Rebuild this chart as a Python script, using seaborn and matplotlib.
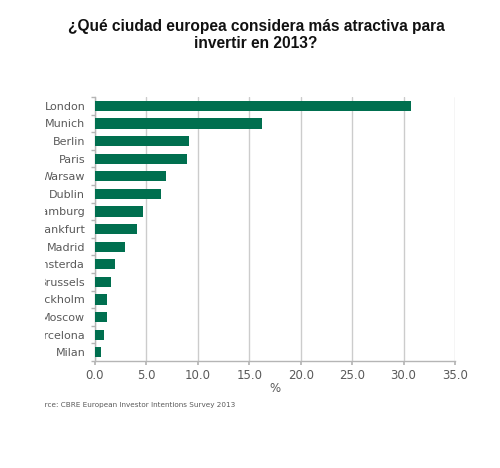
import pandas as pd
import matplotlib.pyplot as plt
import seaborn as sns
import numpy as np
from matplotlib.transforms import Bbox
from matplotlib.ticker import MultipleLocator, FixedLocator

sns.set_theme(style="white")

# datos
ciudades = ["London", "Munich", "Berlin", "Paris", "Warsaw", "Dublin", "Hamburg",
            "Frankfurt", "Madrid", "Amsterda", "Brussels", "Stockholm", "Moscow",
            "Barcelona", "Milan"]
porcentaje = [30.7, 16.2, 9.1, 8.9, 6.9, 6.4, 4.7, 4.1, 2.9, 1.9, 1.6, 1.2, 1.2, 0.9, 0.6]

df = pd.DataFrame({"ciudad": ciudades, "pct": porcentaje})

gris = "#5a5a5a"
verde = "#006f4f"

fig = plt.figure(figsize=(5, 4.68), dpi=100)
ax = fig.add_axes([0.19, 0.2286, 0.72, 0.5641])

sns.barplot(data=df, x="pct", y="ciudad", color=verde, width=0.58,
            saturation=1, ax=ax, zorder=3, linewidth=0)

ax.set_xlim(0, 35)
ax.set_ylim(len(ciudades) - 0.5, -0.5)
ax.xaxis.set_major_locator(MultipleLocator(5))
ax.set_xticklabels([f"{v:.1f}" for v in ax.get_xticks()])
ax.grid(axis="x", color="#cccccc", linewidth=1, zorder=0)
ax.set_axisbelow(True)

for s in ["top", "right"]:
    ax.spines[s].set_visible(False)
for s in ["left", "bottom"]:
    ax.spines[s].set_color("#b5b5b5")
    ax.spines[s].set_linewidth(1)

# marcas pequeñas entre categorías en el eje y
ax.yaxis.set_minor_locator(FixedLocator(np.arange(-0.5, len(ciudades), 1)))
ax.tick_params(axis="y", which="major", length=0, pad=7, labelsize=8, labelcolor=gris)
ax.tick_params(axis="y", which="minor", length=3, color="#b5b5b5", left=True)
ax.tick_params(axis="x", which="major", length=3, color="#b5b5b5", bottom=True,
               pad=3, labelsize=8.5, labelcolor=gris)

ax.set_xlabel("%", fontsize=8.5, color=gris, labelpad=0)
ax.set_ylabel("")

fig.suptitle("¿Qué ciudad europea considera más atractiva para\ninvertir en 2013?",
             x=0.512, y=0.959, fontsize=11.2, fontweight="bold",
             family="Liberation Sans", color="#111111", linespacing=1.12)

# recorte de la captura original por la izquierda
recorte = Bbox.from_extents(45, 0, 500, 468)
for lab in ax.get_yticklabels():
    lab.set_clip_on(True)
    lab.set_clip_box(recorte)

fuente = fig.text(0.062, 0.134, "Source: CBRE European Investor Intentions Survey 2013",
                  fontsize=5.2, color=gris, va="center")
fuente.set_clip_on(True)
fuente.set_clip_box(recorte)

fig.savefig("out.png", dpi=100)
